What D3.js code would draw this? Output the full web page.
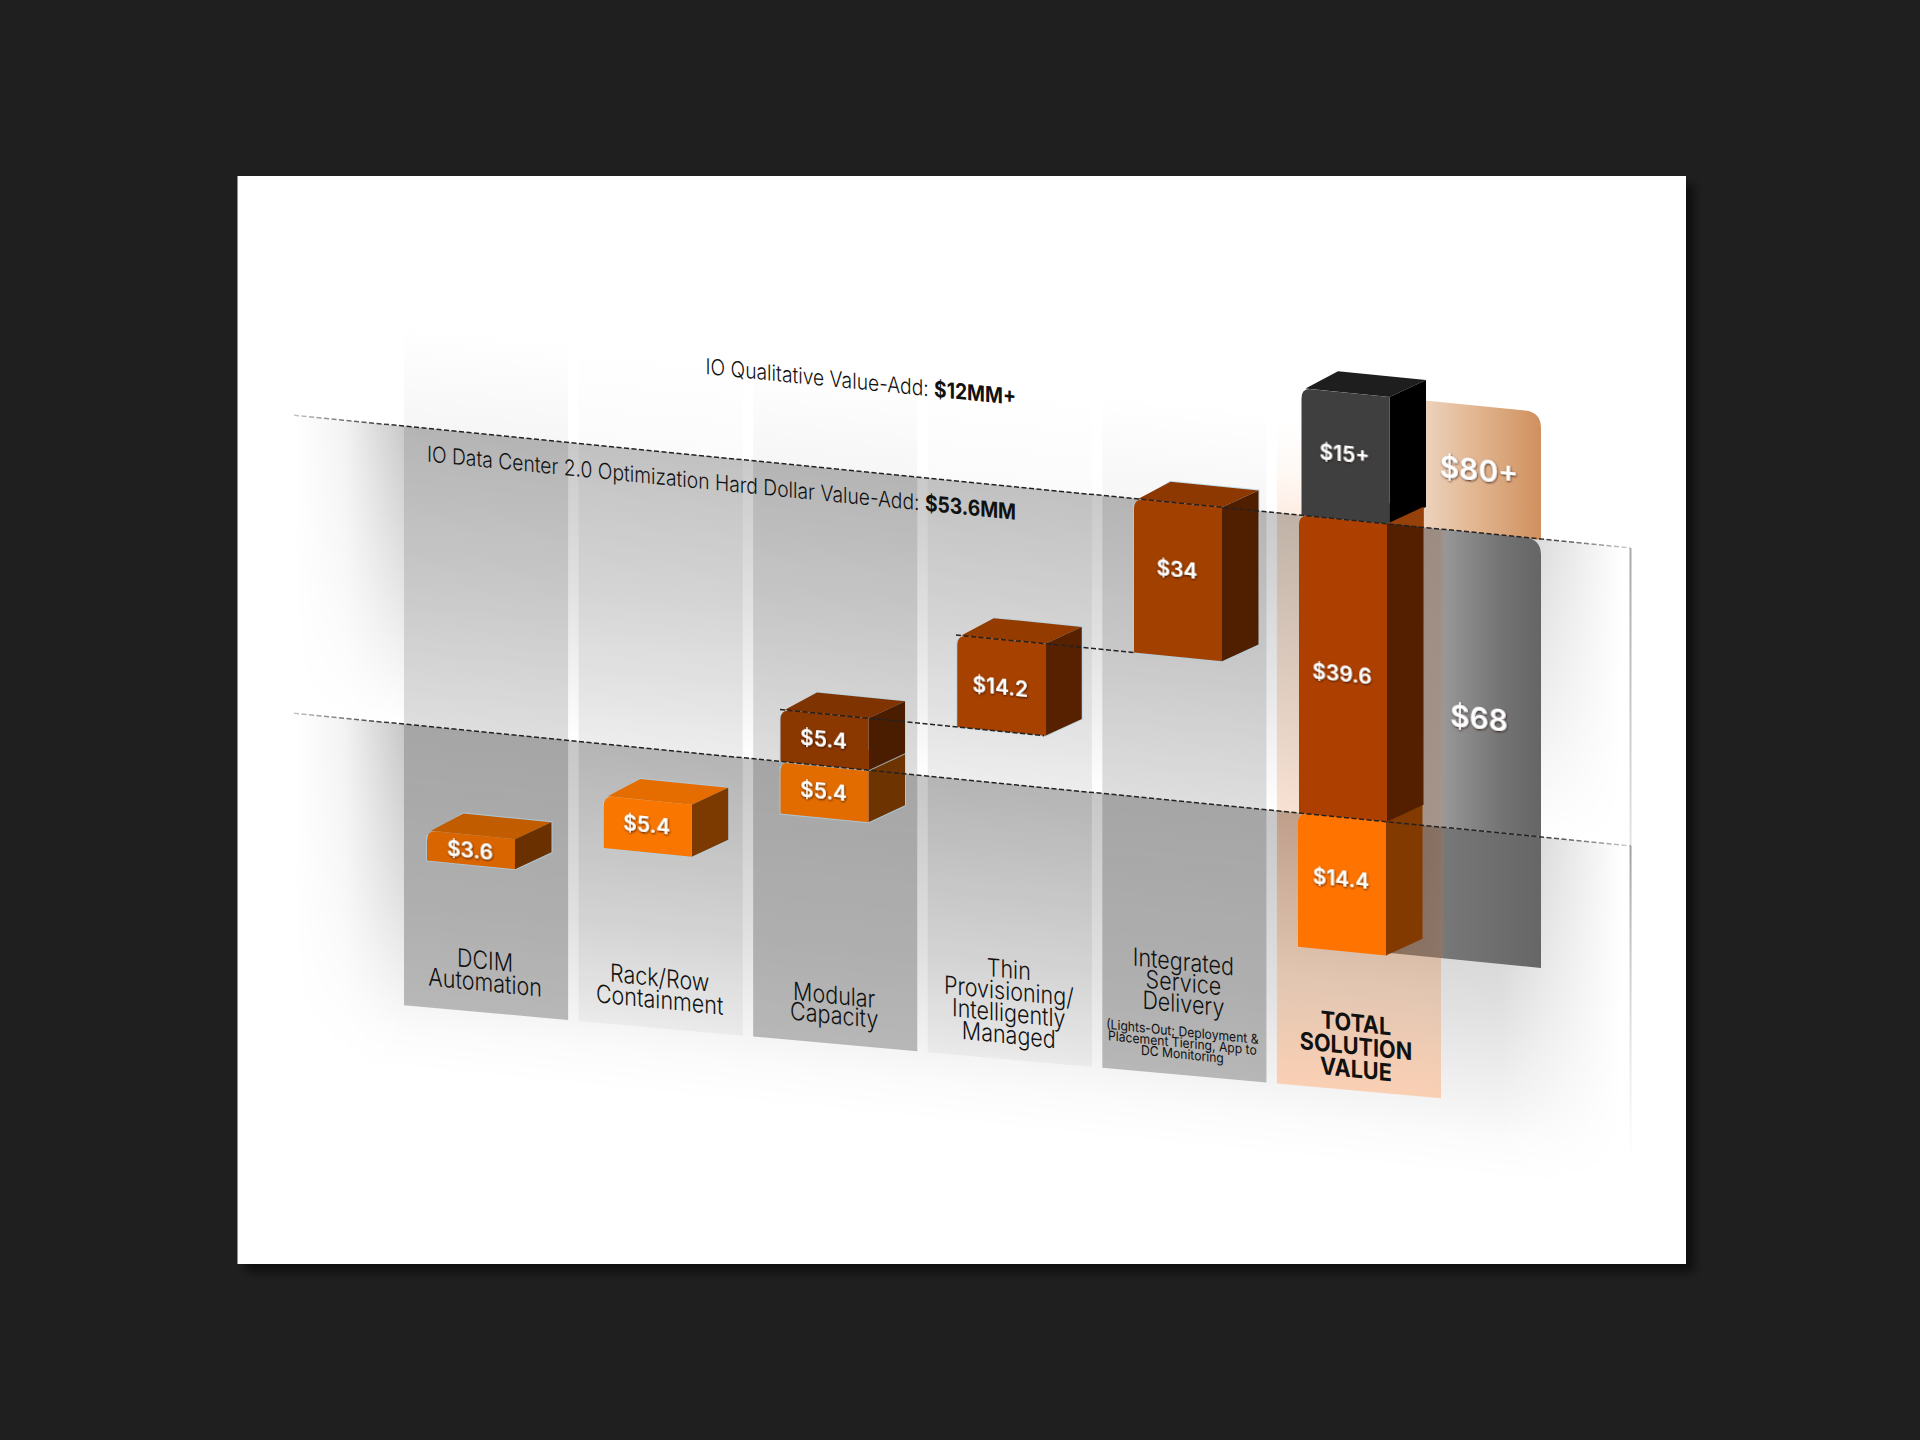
<!DOCTYPE html>
<html>
<head>
<meta charset="utf-8">
<style>
  html, body { margin: 0; padding: 0; background: #1f1f1f; }
  svg { display: block; }
  text { font-family: Inter, "Noto Sans", sans-serif; fill: #111; }
</style>
<script src="https://cdnjs.cloudflare.com/ajax/libs/d3/7.8.5/d3.min.js"></script>
</head>
<body>
<svg id="chart" width="1920" height="1440"></svg>
<script>
// chart data
var categories = ["DCIM", "Rack", "Modular", "Thin", "Integrated", "Total"];
var categoryLines = [
  ["DCIM", "Automation"],
  ["Rack/Row", "Containment"],
  ["Modular", "Capacity"],
  ["Thin", "Provisioning/", "Intelligently", "Managed"],
  ["Integrated", "Service", "Delivery"],
  ["TOTAL", "SOLUTION", "VALUE"]
];
var integratedNote = ["(Lights-Out; Deployment &", "Placement Tiering, App to", "DC Monitoring"];

var segCategory = ["DCIM", "Rack", "Modular", "Modular", "Thin", "Integrated", "Total", "Total", "Total"];
var segLabels = ["$3.6", "$5.4", "$5.4", "$5.4", "$14.2", "$34", "$14.4", "$39.6", "$15+"];
var segBase = [0, 3.6, 9, 14.4, 19.8, 34, 0, 14.4, 68];
var segTop = [3.6, 9, 14.4, 19.8, 34, 68, 14.4, 68, 83];

var totalHard = "$68";
var totalAll = "$80+";
var qualitativeText = ["IO Qualitative Value-Add: ", "$12MM+"];
var hardDollarText = ["IO Data Center 2.0 Optimization Hard Dollar Value-Add: ", "$53.6MM"];

// The picture is not drawn to scale, so the value axis is piecewise between its levels
var levels = [0, 3.6, 9, 14.4, 19.8, 34, 68, 83];
var levelPos = [818, 788, 736, 684, 632, 540, 386, 259];

var segFaces = [
  { front: "#d96500", top: "#c25c00", side: "#6a3000" },
  { front: "#f97700", top: "#e56d00", side: "#7c3a00" },
  { front: "#e26c00", top: "#e26c00", side: "#6d3300" },
  { front: "#8a3700", top: "#7f3300", side: "#4a1d00" },
  { front: "#a64100", top: "#943c00", side: "#572100" },
  { front: "#a24000", top: "#8d3800", side: "#501f00" },
  { front: "#ff7300", top: "#ff7300", side: "#833a00" },
  { front: "#ad4000", top: "#ad4000", side: "#541f00" },
  { front: "#403f3f", top: "#1e1e1e", side: "#000000" }
];
var totalNudge = [-1, 0, 2.5];
var labelNudge = [1, -1, 0, 0, 2, -10, -5, 6, -2];

var skewK = 0.0993;
var depthX = 36.5, depthY = -20.5, barW = 88;

var svg = d3.select("#chart");
var defs = svg.append("defs");

var x = d3.scaleBand().domain(categories).range([404, 1441]).paddingInner(0.06);
var y = d3.scaleLinear().domain(levels).range(levelPos);
var barX = d3.scaleLinear().domain([0, 4]).range([427, 1134]);

// column bottoms slope a little less than the rest of the plane
function colBottom(px) {
  return 1005.3 + 0.0896 * (px - 404) - skewK * px;
}

function vGrad(id, y1, y2, stops) {
  var g = defs.append("linearGradient").attr("id", id)
    .attr("gradientUnits", "userSpaceOnUse")
    .attr("x1", 0).attr("x2", 0).attr("y1", y1).attr("y2", y2);
  stops.forEach(function(s) {
    g.append("stop").attr("offset", (s[0] - y1) / (y2 - y1)).attr("stop-color", s[1]);
  });
}
function hGrad(id, x1, x2, stops) {
  var g = defs.append("linearGradient").attr("id", id)
    .attr("gradientUnits", "userSpaceOnUse")
    .attr("y1", 0).attr("y2", 0).attr("x1", x1).attr("x2", x2);
  stops.forEach(function(s) {
    g.append("stop").attr("offset", (s[0] - x1) / (x2 - x1)).attr("stop-color", s[1]);
  });
}

var upper = y(68), lower = y(14.4);

vGrad("colOdd", 284, 965, [
  [284, "rgba(0,0,0,0)"], [upper - 0.5, "rgba(0,0,0,0.035)"], [upper, "rgba(0,0,0,0.10)"],
  [lower - 0.5, "rgba(0,0,0,0.13)"], [lower, "rgba(0,0,0,0.17)"], [965, "rgba(0,0,0,0.25)"]
]);
vGrad("colEven", 284, 965, [
  [284, "rgba(0,0,0,0)"], [upper - 0.5, "rgba(0,0,0,0.015)"], [upper, "rgba(0,0,0,0.04)"],
  [lower - 0.5, "rgba(0,0,0,0.07)"], [lower, "rgba(0,0,0,0.09)"], [965, "rgba(0,0,0,0.04)"]
]);
vGrad("colTotal", 284, 960, [
  [284, "rgba(255,250,245,0)"], [upper - 0.5, "rgba(253,232,218,0.75)"],
  [upper, "rgba(190,172,158,0.8)"], [lower - 0.5, "rgba(246,222,206,0.9)"],
  [lower, "rgba(190,152,128,0.85)"], [850, "rgba(226,196,174,0.92)"], [960, "rgba(251,208,180,1)"]
]);
vGrad("bandUp", upper, lower, [
  [upper, "rgba(0,0,0,0.21)"], [upper + 150, "rgba(0,0,0,0.115)"], [lower, "rgba(0,0,0,0)"]
]);
vGrad("bandLow", lower, 1030, [
  [lower, "rgba(0,0,0,0.22)"], [860, "rgba(0,0,0,0.12)"], [950, "rgba(0,0,0,0.05)"],
  [990, "rgba(0,0,0,0.016)"], [1030, "rgba(0,0,0,0)"]
]);
hGrad("bandFade", 294, 1630, [
  [294, "#000"], [345, "#3a3a3a"], [404, "#fff"], [1500, "#fff"], [1545, "#999"], [1622, "#000"]
]);
hGrad("cardTop", 1425, 1541, [
  [1425, "#ecd2bc"], [1470, "#e3b995"], [1541, "#d0905e"]
]);
hGrad("cardMid", 1380, 1541, [
  [1380, "rgba(140,120,105,0.75)"], [1441, "rgba(150,135,125,0.85)"], [1445, "#979797"],
  [1500, "#747474"], [1541, "#656565"]
]);
hGrad("cardLow", 1380, 1541, [
  [1380, "rgba(120,90,70,0.8)"], [1441, "rgba(125,105,92,0.85)"], [1445, "#777777"], [1541, "#666666"]
]);
vGrad("edgeFade", upper, 1000, [
  [upper, "#a8a8a8"], [lower - 1, "#e4e4e4"], [lower, "#a0a0a0"], [1000, "rgba(200,200,200,0)"]
]);
hGrad("dashFade", 294, 1630, [
  [294, "rgba(30,30,30,0.25)"], [404, "#222"], [1530, "#222"], [1630, "rgba(30,30,30,0.2)"]
]);

var mask = defs.append("mask").attr("id", "fadeMask").attr("maskUnits", "userSpaceOnUse")
  .attr("x", 280).attr("y", 300).attr("width", 1400).attr("height", 800);
mask.append("rect").attr("x", 280).attr("y", 300).attr("width", 1400).attr("height", 800)
  .attr("fill", "url(#bandFade)");

var shadow = defs.append("filter").attr("id", "panelShadow")
  .attr("x", "-5%").attr("y", "-5%").attr("width", "110%").attr("height", "110%");
shadow.append("feDropShadow").attr("dx", 8).attr("dy", 8).attr("stdDeviation", 5)
  .attr("flood-color", "#000").attr("flood-opacity", 0.55);
var numShadow = defs.append("filter").attr("id", "numShadow")
  .attr("x", "-20%").attr("y", "-30%").attr("width", "140%").attr("height", "160%");
numShadow.append("feDropShadow").attr("dx", 0.5).attr("dy", 1).attr("stdDeviation", 0.8)
  .attr("flood-color", "#2a1000").attr("flood-opacity", 0.9);

svg.append("rect").attr("width", 1920).attr("height", 1440).attr("fill", "#1f1f1f");
svg.append("rect").attr("x", 237.5).attr("y", 176).attr("width", 1448.5).attr("height", 1088)
  .attr("fill", "#fff").attr("filter", "url(#panelShadow)");

var plane = svg.append("g").attr("transform", "skewY(5.67)");

function colPath(cat) {
  var x0 = x(cat), x1 = x0 + x.bandwidth();
  return d3.line()([[x0, 284], [x1, 284], [x1, colBottom(x1)], [x0, colBottom(x0)]]) + "Z";
}

// columns under the bands
plane.selectAll("path.col").data(categories.slice(0, 5)).enter().append("path")
  .attr("class", "col")
  .attr("d", colPath)
  .attr("fill", function(d, i) { return i % 2 === 0 ? "url(#colOdd)" : "url(#colEven)"; });

// two soft grey bands across the whole plane
var bands = plane.append("g").attr("mask", "url(#fadeMask)");
bands.append("rect").attr("x", 294).attr("width", 1336)
  .attr("y", upper).attr("height", lower - upper).attr("fill", "url(#bandUp)");
bands.append("rect").attr("x", 294).attr("width", 1336)
  .attr("y", lower).attr("height", 1030 - lower).attr("fill", "url(#bandLow)");

plane.append("path").attr("d", colPath("Total")).attr("fill", "url(#colTotal)");

// total card behind the last bar
function cardPath(xl, xr, top, bottom, r) {
  var p = d3.path();
  p.moveTo(xl, bottom);
  p.lineTo(xl, top);
  p.lineTo(xr - r, top);
  p.quadraticCurveTo(xr, top, xr, top + r);
  p.lineTo(xr, bottom);
  p.closePath();
  return p.toString();
}
plane.append("path").attr("d", cardPath(1400, 1541, y(83), upper + 1, 16)).attr("fill", "url(#cardTop)");
plane.append("path").attr("d", cardPath(1380, 1541, upper, lower, 16)).attr("fill", "url(#cardMid)");
plane.append("path").attr("d", cardPath(1380, 1541, lower, 815, 0)).attr("fill", "url(#cardLow)");

plane.append("line").attr("x1", 1630.5).attr("x2", 1630.6).attr("y1", upper).attr("y2", 1000)
  .attr("stroke", "url(#edgeFade)").attr("stroke-width", 2);

// bars
var totalSeen = 0;
var segs = segLabels.map(function(label, i) {
  var idx = categories.indexOf(segCategory[i]);
  var xl;
  if (idx < 5) {
    xl = barX(idx);
  } else {
    xl = 1299 + totalNudge[totalSeen];
    totalSeen += 1;
  }
  return { i: i, label: label, xl: xl, xr: xl + barW, top: y(segTop[i]), bot: y(segBase[i]), faces: segFaces[i] };
});

function frontPath(d) {
  var r = 10;
  var p = d3.path();
  p.moveTo(d.xl, d.bot);
  p.lineTo(d.xl, d.top + r);
  p.quadraticCurveTo(d.xl, d.top, d.xl + r, d.top);
  p.lineTo(d.xr, d.top);
  p.lineTo(d.xr, d.bot);
  p.closePath();
  return p.toString();
}

var bars = plane.selectAll("g.seg").data(segs).enter().append("g").attr("class", "seg");

// pale halo around the outside of the smaller blocks only
bars.filter(function(d) { return d.i < 6; }).append("path")
  .attr("d", function(d) {
    return d3.line()([
      [d.xl, d.bot], [d.xl, d.top + 6], [d.xl + depthX, d.top + depthY], [d.xr + depthX, d.top + depthY],
      [d.xr + depthX, d.bot + depthY], [d.xr, d.bot]
    ]) + "Z";
  })
  .attr("fill", "none")
  .attr("stroke", "rgba(175,210,230,0.7)")
  .attr("stroke-width", 2);

bars.append("path")
  .attr("d", function(d) {
    return d3.line()([[d.xl + 4, d.top], [d.xr, d.top], [d.xr + depthX, d.top + depthY], [d.xl + depthX, d.top + depthY]]) + "Z";
  })
  .attr("fill", function(d) { return d.faces.top; });

bars.append("path")
  .attr("d", function(d) {
    return d3.line()([[d.xr, d.top], [d.xr + depthX, d.top + depthY], [d.xr + depthX, d.bot + depthY], [d.xr, d.bot]]) + "Z";
  })
  .attr("fill", function(d) { return d.faces.side; });

bars.append("path")
  .attr("d", frontPath)
  .attr("fill", function(d) { return d.faces.front; });

// the middle total bar shows a lighter wedge above the $68 line on its side face
var mid = segs[7];
plane.append("path")
  .attr("d", d3.line()([[mid.xr, mid.top], [mid.xr + depthX, mid.top + depthY], [mid.xr + depthX, mid.top]]) + "Z")
  .attr("fill", "#96400a");

// dashed level lines
function dashLine(x1, x2, level, color) {
  plane.append("line")
    .attr("x1", x1).attr("x2", x2)
    .attr("y1", y(level)).attr("y2", y(level) + 0.01)
    .attr("stroke", color).attr("stroke-width", 1.5)
    .attr("stroke-dasharray", "5,2.5");
}
dashLine(294, 1630, 68, "url(#dashFade)");
dashLine(294, 1630, 14.4, "url(#dashFade)");
dashLine(780, 1044, 19.8, "#222");
dashLine(956, 1134, 34, "#222");

// text sits on the same skewed plane
function label(px, py, str, size, weight, sx, color) {
  var t = plane.append("text")
    .attr("transform", "translate(" + px + "," + py + ") scale(" + sx + ",1)")
    .attr("text-anchor", "middle")
    .attr("font-size", size)
    .attr("font-weight", weight)
    .text(str);
  if (color) t.style("fill", color);
  return t;
}

var firstLine = [921, 921, 921, 878, 853, 897];
var lineStep = [22, 22, 20, 21.8, 21, 23];
categoryLines.forEach(function(lines, c) {
  var cx = x(categories[c]) + x.bandwidth() / 2;
  lines.forEach(function(line, j) {
    if (c === 5) {
      label(cx - 3, firstLine[c] + j * lineStep[c], line, 24, 700, 0.9);
    } else {
      label(cx - 1, firstLine[c] + j * lineStep[c], line, 25, 300, 0.86);
    }
  });
});
integratedNote.forEach(function(line, j) {
  var cx = x("Integrated") + x.bandwidth() / 2;
  label(cx - 2, 919 + j * 11.2, line, 13.5, 400, 0.9);
});

function headline(px, py, parts, size, sx) {
  var t = plane.append("text")
    .attr("transform", "translate(" + px + "," + py + ") scale(" + sx + ",1)")
    .attr("text-anchor", "end")
    .attr("font-size", size)
    .attr("font-weight", 300);
  t.append("tspan").text(parts[0]);
  t.append("tspan").attr("font-weight", 700).text(parts[1]);
}
headline(1016, 304, qualitativeText, 22, 0.875);
headline(1016, 419, hardDollarText, 22, 0.875);

// value labels
function valueLabel(px, py, str, size) {
  plane.append("text")
    .attr("x", px).attr("y", py)
    .attr("text-anchor", "middle")
    .attr("dominant-baseline", "central")
    .attr("font-size", size)
    .attr("font-weight", 600)
    .attr("filter", "url(#numShadow)")
    .style("fill", "#fff")
    .text(str);
}
segs.forEach(function(d) {
  valueLabel(d.xl + barW / 2 - 1, (d.top + d.bot) / 2 + labelNudge[d.i], d.label, 21);
});
valueLabel(1479, 323, totalAll, 30);
valueLabel(1479, 571, totalHard, 30);
</script>
</body>
</html>
